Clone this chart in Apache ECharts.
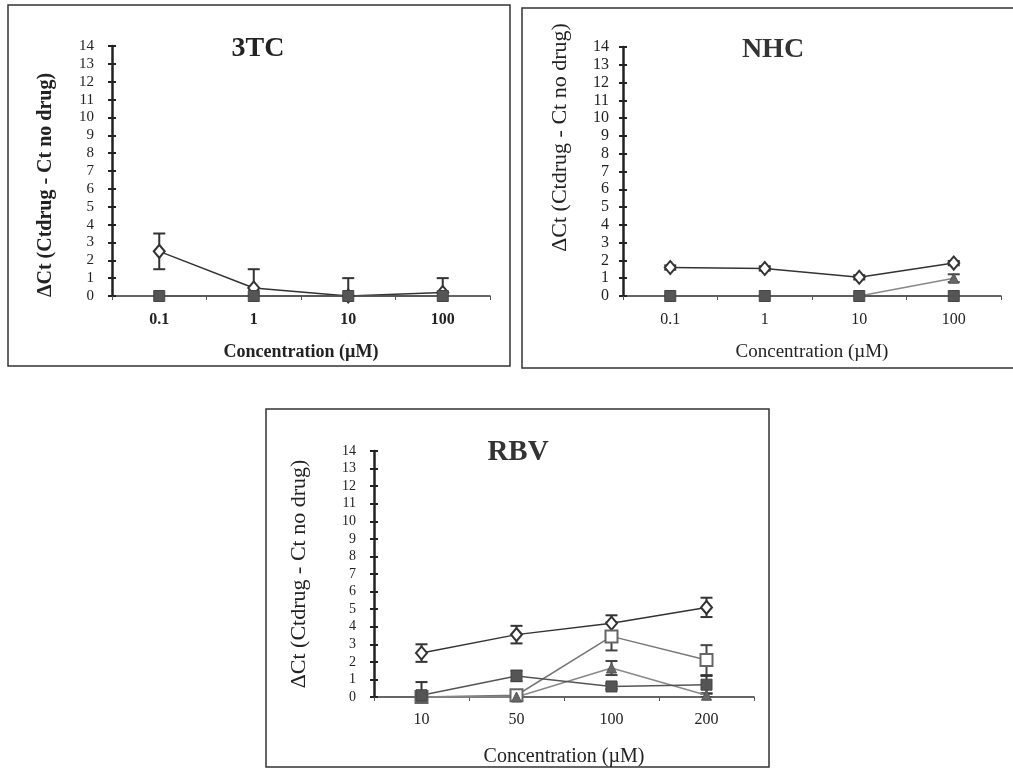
<!DOCTYPE html>
<html><head><meta charset="utf-8">
<script src="https://cdn.jsdelivr.net/npm/echarts@6/dist/echarts.min.js"></script>
<style>html,body{margin:0;padding:0;background:#fff}#c{width:1013px;height:770px}</style>
</head><body><div id="c"></div>
<script>
// ---------- data ----------
const tcCategories = ['0.1', '1', '10', '100'];
const tcDiamond = [2.5, 0.45, 0, 0.2];
const tcDiamondErr = [1.0, 1.05, 1.0, 0.8];
const tcSquare = [0, 0, 0, 0];

const nhcCategories = ['0.1', '1', '10', '100'];
const nhcDiamond = [1.6, 1.55, 1.05, 1.85];
const nhcDiamondErr = [0.12, 0.12, 0.12, 0.12];
const nhcTriangle = [0, 0, 0, 1.0];
const nhcTriangleErr = [0, 0, 0, 0.22];
const nhcSquare = [0, 0, 0, 0];

const rbvCategories = ['10', '50', '100', '200'];
const rbvDiamond = [2.5, 3.55, 4.2, 5.1];
const rbvDiamondErr = [0.5, 0.5, 0.45, 0.55];
const rbvOpenSquare = [0, 0.1, 3.45, 2.1];
const rbvOpenSquareErr = [0, 0, 0.8, 0.85];
const rbvTriangle = [0, 0, 1.65, 0.1];
const rbvTriangleErr = [0, 0, 0.4, 0.1];
const rbvFilledSquare = [0.1, 1.2, 0.6, 0.7];
const rbvFilledSquareErr = [0.75, 0.3, 0.15, 0.5];

const titles = ['3TC', 'NHC', 'RBV'];
const yName = 'ΔCt (Ctdrug - Ct no drug)';
const xName = 'Concentration (µM)';
const yMin = 0, yMax = 14, yStep = 1;

// ---------- helpers ----------
const FONT = '"Liberation Serif", "DejaVu Serif", serif';
const INK = '#222';

function xAxisFor(g, cats, o) {
  return {
    type: 'category', gridIndex: g, data: cats, boundaryGap: true,
    axisLine: {lineStyle: {color: '#333', width: 1.5}},
    axisTick: {show: true, length: 4, lineStyle: {color: '#555', width: 1}},
    axisLabel: {fontFamily: FONT, fontSize: o.labelSize, fontWeight: o.labelWeight, color: INK, margin: o.labelMargin},
    splitLine: {show: false},
    name: xName, nameLocation: 'middle', nameGap: o.nameGap,
    nameTextStyle: {fontFamily: FONT, fontSize: o.nameSize, fontWeight: o.nameWeight, color: INK}
  };
}
function yAxesFor(g, o) {
  return [{
    type: 'value', gridIndex: g, position: 'left', min: yMin, max: yMax, interval: yStep,
    axisLine: {show: true, lineStyle: {color: INK, width: 2.5}},
    axisTick: {show: true, length: 4, lineStyle: {color: INK, width: 2}},
    axisLabel: {fontFamily: FONT, fontSize: o.labelSize, color: INK, margin: o.labelMargin},
    splitLine: {show: false},
    name: yName, nameLocation: 'middle', nameGap: o.nameGap, nameRotate: 90,
    nameTextStyle: {fontFamily: FONT, fontSize: o.nameSize, fontWeight: o.nameWeight, color: INK, padding: o.namePad || 0}
  }, {
    type: 'value', gridIndex: g, position: 'left', min: yMin, max: yMax, interval: yStep,
    axisLine: {show: false},
    axisTick: {show: true, inside: true, length: 4, lineStyle: {color: INK, width: 2}},
    axisLabel: {show: false}, splitLine: {show: false}
  }];
}
function errSeries(xi, yi, vals, errs, color) {
  return {
    type: 'custom', xAxisIndex: xi, yAxisIndex: yi, clip: true, z: 2, silent: true,
    encode: {x: 0, y: 1},
    data: vals.map((v, i) => [i, v, errs[i]]).filter(d => d[2] > 0),
    renderItem(params, api) {
      const i = api.value(0), v = api.value(1), e = api.value(2);
      const x = api.coord([i, v])[0];
      const yt = api.coord([i, v + e])[1], yb = api.coord([i, v - e])[1];
      const w = 6;
      const style = {stroke: color, lineWidth: 2};
      return {type: 'group', children: [
        {type: 'line', shape: {x1: x, y1: yt, x2: x, y2: yb}, style},
        {type: 'line', shape: {x1: x - w, y1: yt, x2: x + w, y2: yt}, style},
        {type: 'line', shape: {x1: x - w, y1: yb, x2: x + w, y2: yb}, style}
      ]};
    }
  };
}
const STYLES = {
  diamond: {symbol: 'diamond', symbolSize: [11, 13], line: '#333', fill: '#fff', border: '#333', bw: 2},
  filled: {symbol: 'rect', symbolSize: 11, line: '#555', fill: '#555', border: '#444', bw: 1},
  open: {symbol: 'rect', symbolSize: 12, line: '#777', fill: '#fff', border: '#666', bw: 2},
  tri: {symbol: 'triangle', symbolSize: 10, line: '#888', fill: '#666', border: '#555', bw: 1}
};
function lineSeries(xi, yi, vals, kind) {
  const s = STYLES[kind];
  return {
    type: 'line', xAxisIndex: xi, yAxisIndex: yi, data: vals, clip: false, z: 3,
    symbol: s.symbol, symbolSize: s.symbolSize, showSymbol: true,
    lineStyle: {color: s.line, width: 1.5},
    itemStyle: {color: s.fill, borderColor: s.border, borderWidth: s.bw},
    emphasis: {disabled: true}
  };
}

// ---------- option ----------
const option = {
  animation: false,
  backgroundColor: '#fff',
  graphic: [
    {type: 'rect', shape: {x: 8, y: 5, width: 502, height: 361}, style: {fill: 'none', stroke: '#333', lineWidth: 1.5}, z: -1},
    {type: 'rect', shape: {x: 522, y: 8, width: 500, height: 360}, style: {fill: 'none', stroke: '#333', lineWidth: 1.5}, z: -1},
    {type: 'rect', shape: {x: 266, y: 409, width: 503, height: 358}, style: {fill: 'none', stroke: '#333', lineWidth: 1.5}, z: -1}
  ],
  title: [
    {text: titles[0], left: 253, top: 30, textAlign: 'center', textStyle: {fontFamily: FONT, fontSize: 28, fontWeight: 'bold', color: INK}},
    {text: titles[1], left: 768, top: 31, textAlign: 'center', textStyle: {fontFamily: FONT, fontSize: 28, fontWeight: 'bold', color: '#333'}},
    {text: titles[2], left: 513, top: 433, textAlign: 'center', textStyle: {fontFamily: FONT, fontSize: 29, fontWeight: 'bold', color: '#333'}}
  ],
  grid: [
    {left: 112, top: 46, width: 378, height: 250},
    {left: 623, top: 47, width: 378, height: 249},
    {left: 374, top: 451, width: 380, height: 246}
  ],
  xAxis: [
    xAxisFor(0, tcCategories, {labelSize: 16, labelWeight: 'bold', labelMargin: 16, nameGap: 47, nameSize: 18, nameWeight: 'bold'}),
    xAxisFor(1, nhcCategories, {labelSize: 16, labelWeight: 'normal', labelMargin: 16, nameGap: 47, nameSize: 19, nameWeight: 'normal'}),
    xAxisFor(2, rbvCategories, {labelSize: 16, labelWeight: 'normal', labelMargin: 15, nameGap: 50, nameSize: 20, nameWeight: 'normal'})
  ],
  yAxis: [
    ...yAxesFor(0, {labelSize: 15, labelMargin: 18, nameGap: 56, nameSize: 20, nameWeight: 'bold', namePad: [0, 28, 0, 0]}),
    ...yAxesFor(1, {labelSize: 16, labelMargin: 14, nameGap: 52, nameSize: 22, nameWeight: 'normal', namePad: [0, 0, 0, 68]}),
    ...yAxesFor(2, {labelSize: 14, labelMargin: 18, nameGap: 64, nameSize: 22, nameWeight: 'normal'})
  ],
  series: [
    errSeries(0, 0, tcDiamond, tcDiamondErr, '#333'),
    lineSeries(0, 0, tcDiamond, 'diamond'),
    lineSeries(0, 0, tcSquare, 'filled'),

    errSeries(1, 2, nhcDiamond, nhcDiamondErr, '#333'),
    errSeries(1, 2, nhcTriangle, nhcTriangleErr, '#444'),
    lineSeries(1, 2, nhcDiamond, 'diamond'),
    lineSeries(1, 2, nhcTriangle, 'tri'),
    lineSeries(1, 2, nhcSquare, 'filled'),

    errSeries(2, 4, rbvDiamond, rbvDiamondErr, '#333'),
    errSeries(2, 4, rbvOpenSquare, rbvOpenSquareErr, '#444'),
    errSeries(2, 4, rbvTriangle, rbvTriangleErr, '#444'),
    errSeries(2, 4, rbvFilledSquare, rbvFilledSquareErr, '#333'),
    lineSeries(2, 4, rbvDiamond, 'diamond'),
    lineSeries(2, 4, rbvOpenSquare, 'open'),
    lineSeries(2, 4, rbvTriangle, 'tri'),
    lineSeries(2, 4, rbvFilledSquare, 'filled')
  ]
};
const chart = echarts.init(document.getElementById('c'), null, {renderer: 'canvas'});
chart.setOption(option);
</script>
</body></html>
